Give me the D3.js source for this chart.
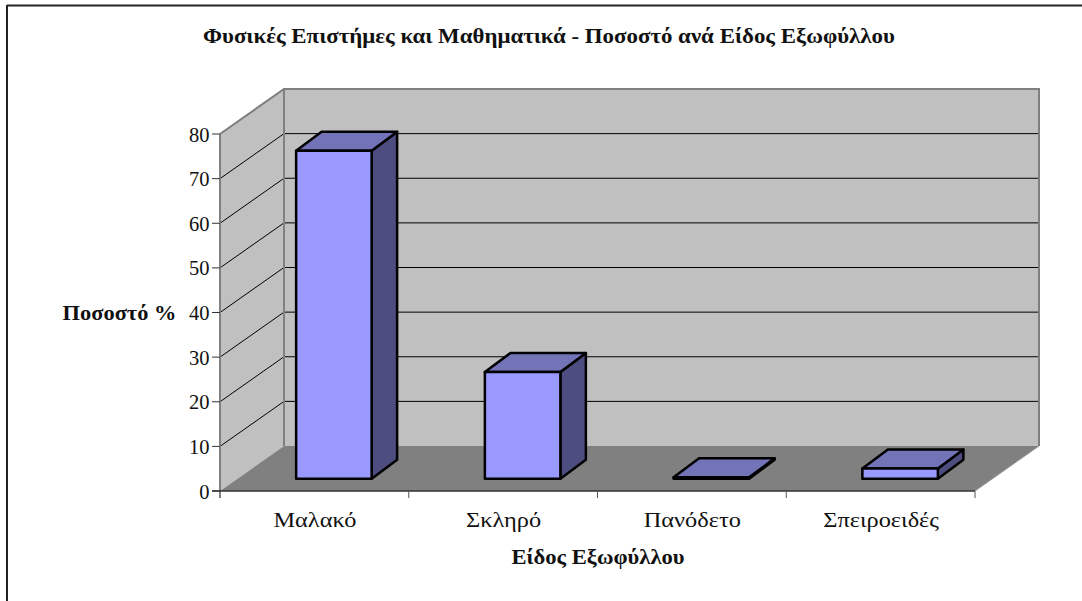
<!DOCTYPE html>
<html><head><meta charset="utf-8">
<script src="https://cdn.jsdelivr.net/npm/d3@7"></script>
<style>html,body{margin:0;padding:0;background:#fff}svg{display:block}text{font-family:"Liberation Serif",serif;fill:#111}</style>
</head><body><svg id="c" width="1082" height="601"></svg>
<script>
const categories=["Μαλακό","Σκληρό","Πανόδετο","Σπειροειδές"];
const values=[73.5,23.9,0.3,2.3];
const yTicks=[0,10,20,30,40,50,60,70,80];
const titleText="Φυσικές Επιστήμες και Μαθηματικά - Ποσοστό ανά Είδος Εξωφύλλου";
const yTitle="Ποσοστό %";
const xTitle="Είδος Εξωφύλλου";

const svg=d3.select("#c");
const x=d3.scaleBand().domain(categories).range([220,975]);
const y=d3.scaleLinear().domain([0,80]).range([491,134]);
const depth={x:64,y:-45};
const barDepth={x:25.5,y:-19};
const barOffset={x:19.5,y:-12.3};
const barW=75.5;
const poly=(pts,fill,stroke,sw)=>svg.append("polygon").attr("points",pts.map(p=>p.join(",")).join(" ")).attr("fill",fill).attr("stroke",stroke||"none").attr("stroke-width",sw||0).attr("stroke-linejoin","round");
const line=(x1,y1,x2,y2,c,w)=>svg.append("line").attr("x1",x1).attr("y1",y1).attr("x2",x2).attr("y2",y2).attr("stroke",c).attr("stroke-width",w);
// text helper: the reference face is wider than the available serif, so stretch horizontally
const label=(str,cx,by,size,weight,stretch)=>{
  const t=svg.append("text").attr("x",cx).attr("y",by).attr("text-anchor","middle").attr("font-size",size).attr("font-weight",weight).text(str);
  const w=t.node().getComputedTextLength();
  t.attr("textLength",w*stretch).attr("lengthAdjust","spacingAndGlyphs");
  return t;
};

// frame: only top and left rules are in the picture
line(7,5.5,1082,5.5,"#222",2);
line(7,5,7,601,"#222",2);

const [x0,x1]=x.range(), yb=y(0), yt=y(80);
poly([[x0+depth.x,yt+depth.y],[x1+depth.x,yt+depth.y],[x1+depth.x,yb+depth.y],[x0+depth.x,yb+depth.y]],"#c0c0c0");
poly([[x0,yt],[x0+depth.x,yt+depth.y],[x0+depth.x,yb+depth.y],[x0,yb]],"#c0c0c0");
poly([[x0,yb],[x0+depth.x,yb+depth.y],[x1+depth.x,yb+depth.y],[x1,yb]],"#808080");
yTicks.slice(1).forEach(t=>{
  line(x0,y(t),x0+depth.x,y(t)+depth.y,"#000",1);
  line(x0+depth.x,y(t)+depth.y,x1+depth.x,y(t)+depth.y,"#000",1);
});
svg.append("path").attr("d",`M${x0},${yt}L${x0+depth.x},${yt+depth.y}L${x1+depth.x},${yt+depth.y}L${x1+depth.x},${yb+depth.y}`).attr("fill","none").attr("stroke","#808080").attr("stroke-width",2);
line(x0+depth.x,yt+depth.y,x0+depth.x,yb+depth.y,"#808080",2);
line(x1+depth.x,yb+depth.y,x1,yb,"#999",1);
line(x0,yt,x0,yb+7,"#808080",2);
line(x0-8,yb,x1,yb,"#333",1.5);
yTicks.forEach(t=>{
  line(x0-8,y(t),x0,y(t),"#333",1);
  svg.append("text").attr("x",x0-10.5).attr("y",y(t)+7.5).attr("text-anchor","end").attr("font-size",20.5).text(t);
});
categories.forEach((c,i)=>{
  const px=x0+(i+1)*x.step();
  line(px,yb,px,yb+7,"#555",1);
});
categories.forEach(c=>label(c,x(c)+x.bandwidth()/2+0.5,527,21,"normal",1.16));
categories.forEach((c,i)=>{
  const l=x(c)+x.bandwidth()/2+barOffset.x-barW/2, r=l+barW;
  const b=yb+barOffset.y, t=b-(yb-y(values[i]));
  const dx=barDepth.x,dy=barDepth.y;
  poly([[r,t],[r+dx,t+dy],[r+dx,b+dy],[r,b]],"#4d4d80","#000",2.5);
  poly([[l,t],[r,t],[r+dx,t+dy],[l+dx,t+dy]],"#7373b8","#000",2.5);
  poly([[l,t],[r,t],[r,b],[l,b]],"#9999ff","#000",2.5);
});
label(titleText,549,42.5,20,"bold",1.145);
label(yTitle,119.5,320,20,"bold",1.12);
label(xTitle,598,564,20,"bold",1.13);
</script></body></html>
